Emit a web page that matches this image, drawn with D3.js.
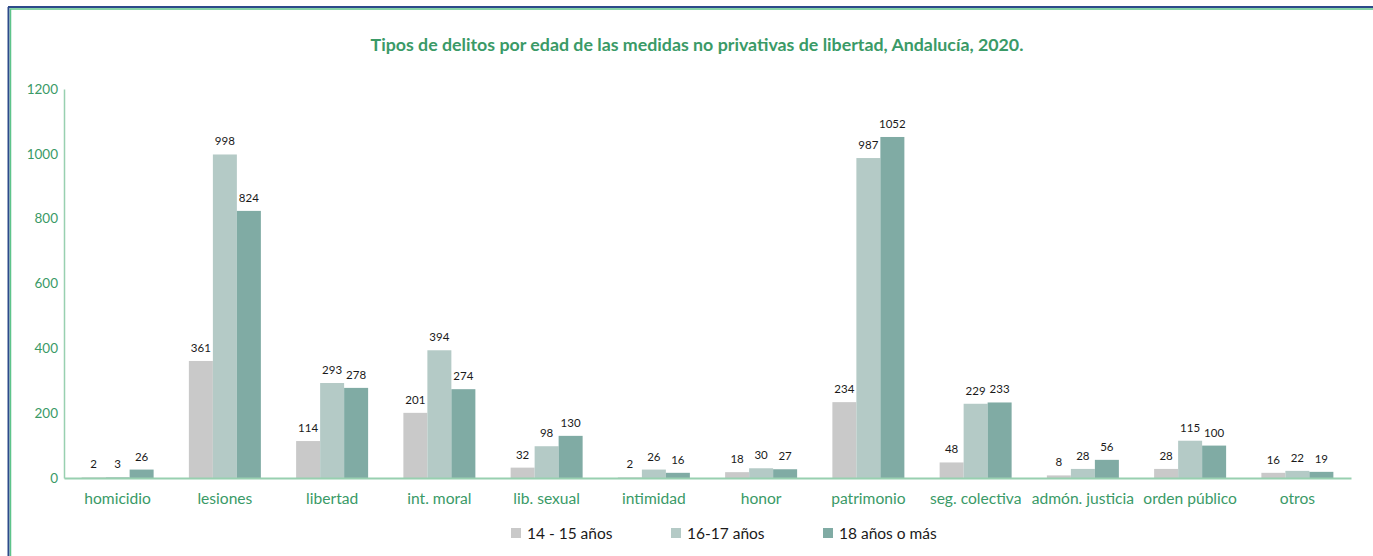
<!DOCTYPE html>
<html>
<head>
<meta charset="utf-8">
<script src="https://cdn.jsdelivr.net/npm/d3@7"></script>
<style>
  body { margin: 0; background: #fff; }
  text { font-family: Lato, "Open Sans", sans-serif; }
</style>
</head>
<body>
<div id="content"></div>
<script>
// Screen dimensions
var w = 1373;
var h = 556;

// Data
var categories = ["homicidio", "lesiones", "libertad", "int. moral", "lib. sexual", "intimidad",
                  "honor", "patrimonio", "seg. colectiva", "admón. justicia", "orden público", "otros"];
var seriesNames = ["14 - 15 años", "16-17 años", "18 años o más"];
var age1415 = [2, 361, 114, 201, 32, 2, 18, 234, 48, 8, 28, 16];
var age1617 = [3, 998, 293, 394, 98, 26, 30, 987, 229, 28, 115, 22];
var age18 = [26, 824, 278, 274, 130, 16, 27, 1052, 233, 56, 100, 19];
var yTicks = [0, 200, 400, 600, 800, 1000, 1200];
var colors = ["#c9c9c9", "#b4cac6", "#80aba4"];

var series = [age1415, age1617, age18];

var svg = d3.select("#content")
    .append("svg")
    .attr("width", w)
    .attr("height", h);

// Frame
svg.append("line").attr("x1", 8).attr("y1", 7).attr("x2", w).attr("y2", 7)
   .attr("stroke", "#2d4a8a").attr("stroke-width", 2);
svg.append("line").attr("x1", 8.5).attr("y1", 7).attr("x2", 8.5).attr("y2", h)
   .attr("stroke", "#2d4a8a").attr("stroke-width", 2);
svg.append("line").attr("x1", 10).attr("y1", 9).attr("x2", w).attr("y2", 9)
   .attr("stroke", "#5ec48a").attr("stroke-width", 1.5);
svg.append("line").attr("x1", 10.5).attr("y1", 9).attr("x2", 10.5).attr("y2", h)
   .attr("stroke", "#5ec48a").attr("stroke-width", 1.5);

// Title
svg.append("text")
   .attr("x", 697)
   .attr("y", 51)
   .attr("text-anchor", "middle")
   .attr("fill", "#3a9a67")
   .attr("font-size", "17.8px")
   .attr("font-weight", "bold")
   .text("Tipos de delitos por edad de las medidas no privativas de libertad, Andalucía, 2020.");

// Scales
var plotLeft = 64, plotRight = 1351, plotTop = 89, plotBottom = 478;
var x = d3.scaleBand().domain(categories).range([plotLeft, plotRight]);
var y = d3.scaleLinear().domain([0, 1200]).range([plotBottom, plotTop]);
var barW = 24;
var xs = d3.scaleBand().domain(d3.range(3)).range([0, barW * 3]);

// Y axis
var yAxis = svg.append("g")
   .attr("transform", "translate(" + plotLeft + ",0)")
   .call(d3.axisLeft(y).tickValues(yTicks).tickFormat(d3.format("d")).tickSize(0).tickPadding(6));
yAxis.select(".domain").attr("stroke", "#98d0b0").attr("stroke-width", 1.5);
yAxis.selectAll("text").attr("fill", "#3a9a67").attr("font-size", "13.5px")
   .style("font-family", "Lato, sans-serif");

// Bars
series.forEach(function(vals, si) {
  var g = svg.append("g");
  g.selectAll("rect")
   .data(vals)
   .enter()
   .append("rect")
   .attr("x", function(d, i) { return x(categories[i]) + x.bandwidth() / 2 - barW * 1.5 + xs(si); })
   .attr("y", function(d) { return y(d); })
   .attr("width", xs.bandwidth())
   .attr("height", function(d) { return plotBottom - y(d); })
   .attr("fill", colors[si]);
  g.selectAll("text")
   .data(vals)
   .enter()
   .append("text")
   .attr("x", function(d, i) { return x(categories[i]) + x.bandwidth() / 2 - barW * 1.5 + xs(si) + xs.bandwidth() / 2; })
   .attr("y", function(d) { return y(d) - 9; })
   .attr("text-anchor", "middle")
   .attr("font-size", "11.5px")
   .attr("fill", "#1a1a1a")
   .text(function(d) { return d; });
});

// X axis
var xAxis = svg.append("g")
   .attr("transform", "translate(0," + plotBottom + ")")
   .call(d3.axisBottom(x).tickSize(0).tickPadding(15));
xAxis.select(".domain").attr("stroke", "#98d0b0").attr("stroke-width", 2);
xAxis.selectAll("text").attr("fill", "#3a9a67").attr("font-size", "15.6px")
   .style("font-family", "Lato, sans-serif");

// Legend
var legendX = [511, 671, 823];
var legend = svg.append("g");
seriesNames.forEach(function(name, i) {
  legend.append("rect")
     .attr("x", legendX[i])
     .attr("y", 528)
     .attr("width", 10)
     .attr("height", 10)
     .attr("fill", colors[i]);
  legend.append("text")
     .attr("x", legendX[i] + 16)
     .attr("y", 539)
     .attr("font-size", "15.5px")
     .attr("fill", "#1a1a1a")
     .text(name);
});
</script>
</body>
</html>
